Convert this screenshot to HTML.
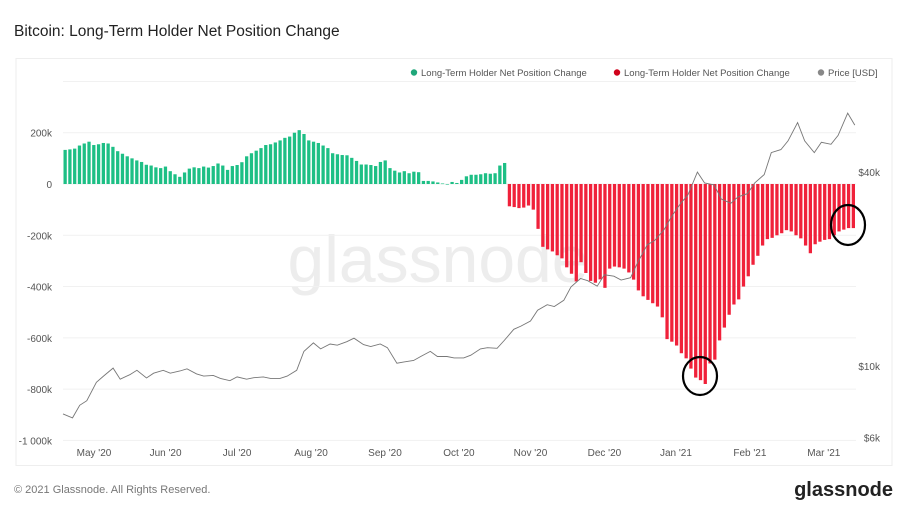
<!DOCTYPE html>
<html><head><meta charset="utf-8">
<style>
html,body{margin:0;padding:0;background:#fff;width:908px;height:507px;overflow:hidden;font-family:"Liberation Sans",sans-serif;}
svg{display:block}
</style></head>
<body>
<svg id="chart" width="908" height="507" viewBox="0 0 908 507" xmlns="http://www.w3.org/2000/svg">
<text x="14" y="36" font-size="15.5" fill="#222">Bitcoin: Long-Term Holder Net Position Change</text>
<rect x="16" y="58.5" width="876" height="407" fill="#fff" stroke="#eee"/>
<text x="438" y="282" font-size="66" fill="#ededed" text-anchor="middle">glassnode</text>
<g id="grid"></g>
<g id="bars"></g>
<g id="price"></g>
<g id="axes"></g>
<ellipse cx="700" cy="376" rx="17" ry="19" fill="none" stroke="#000" stroke-width="2.2"/>
<ellipse cx="848" cy="225" rx="17" ry="20" fill="none" stroke="#000" stroke-width="2.2"/>
<g font-size="9.5" fill="#555">
 <g><circle cx="414" cy="72.5" r="3.2" fill="#1fa77a"/><text x="421" y="76">Long-Term Holder Net Position Change</text></g>
 <g><circle cx="617" cy="72.5" r="3.2" fill="#d0021b"/><text x="624" y="76">Long-Term Holder Net Position Change</text></g>
 <g><circle cx="821" cy="72.5" r="3.2" fill="#888"/><text x="828" y="76">Price [USD]</text></g>
</g>
<text x="14" y="493" font-size="11" fill="#777">© 2021 Glassnode. All Rights Reserved.</text>
<text x="893" y="496" font-size="20" font-weight="bold" fill="#222" text-anchor="end">glassnode</text>
</svg>
<script>
const greenValues=[133,135,138,150,158,165,152,155,160,158,145,128,118,108,100,92,86,75,72,65,62,68,50,38,28,45,60,65,62,68,64,70,80,72,55,70,74,85,108,120,130,140,152,155,162,170,180,185,200,210,195,170,165,160,150,140,120,116,113,112,102,90,76,76,74,70,86,92,62,52,45,50,42,48,46,12,12,10,6,2,0,8,4,16,30,36,36,38,42,40,42,72,82];
const redValues=[-87,-90,-94,-92,-84,-100,-175,-245,-255,-263,-278,-290,-325,-350,-380,-305,-347,-378,-385,-372,-405,-330,-322,-325,-330,-345,-373,-415,-438,-452,-465,-478,-520,-605,-615,-630,-660,-680,-720,-755,-765,-780,-700,-685,-610,-560,-510,-470,-450,-400,-360,-315,-280,-240,-215,-210,-200,-192,-180,-185,-200,-212,-240,-270,-235,-225,-218,-215,-200,-185,-178,-172,-172];
const priceDays=[0,4,7,10,14,17,21,24,28,31,35,38,42,45,49,52,56,59,63,66,70,73,77,80,84,87,91,94,98,101,105,108,112,115,119,122,126,129,133,136,140,143,147,150,154,157,161,164,168,171,175,178,182,185,189,192,196,199,203,206,210,213,217,220,224,227,231,234,238,241,245,248,252,255,259,262,266,269,273,276,280,283,287,290,294,297,301,304,308,311,315,318,322,325,329,332];
const priceValues=[7100,6900,7550,7800,8900,9300,9850,9100,9400,9700,9180,9500,9700,9500,9650,9800,9450,9300,9350,9150,9000,9250,9100,9200,9250,9150,9150,9300,9700,11100,11800,11300,11700,11600,11900,12200,11650,11500,11700,11400,10200,10300,10400,10700,11100,10700,10700,10600,10600,10800,11300,11400,11350,12000,13000,13300,13800,14900,15500,15300,16000,17600,18700,18400,17700,19200,19000,18500,18800,21000,23800,24500,26500,29000,32000,34000,40000,37000,36500,33000,32000,33500,34300,37000,39300,46000,47000,50000,57000,50000,46000,49500,48800,52000,61000,56000];
const leftTicks=[200,0,-200,-400,-600,-800,-1000];
const leftTickLabels=["200k","0","-200k","-400k","-600k","-800k","-1 000k"];
const rightTicks=[40000,10000,6000];
const rightTickLabels=["$40k","$10k","$6k"];
const monthDays=[13,43,73,104,135,166,196,227,257,288,319];
const monthLabels=["May '20","Jun '20","Jul '20","Aug '20","Sep '20","Oct '20","Nov '20","Dec '20","Jan '21","Feb '21","Mar '21"];

const NS='http://www.w3.org/2000/svg';
const X0=63,X1=856,Y0=184,PXK=0.2564;
const nBars=greenValues.length+redValues.length;
const step=(X1-X0)/nBars;
const yL=v=>Y0-v*PXK;
const yR=p=>366-(Math.log10(p)-4)*322;
const xDay=d=>X0+d*2.385;
function mk(tag,attrs,parent){const e=document.createElementNS(NS,tag);for(const k in attrs)e.setAttribute(k,attrs[k]);parent.appendChild(e);return e;}
const grid=document.getElementById('grid'),bars=document.getElementById('bars'),price=document.getElementById('price'),axes=document.getElementById('axes');
[400].concat(leftTicks).forEach(v=>{
  const l=mk('line',{x1:X0,x2:X1,y1:yL(v),y2:yL(v),stroke:'#f1f1f1','stroke-width':1},grid);
  
  
});
leftTicks.forEach((v,i)=>{
  const t=mk('text',{x:52,y:yL(v)+4,'font-size':10,fill:'#555','text-anchor':'end'},axes);
  t.textContent=leftTickLabels[i];
  
  
});
rightTicks.forEach((v,i)=>{
  const t=mk('text',{x:880,y:yR(v)+4,'font-size':10,fill:'#555','text-anchor':'end'},axes);
  t.textContent=rightTickLabels[i];
  
  
});
monthDays.forEach((d,i)=>{
  const t=mk('text',{x:xDay(d),y:456,'font-size':10,fill:'#555','text-anchor':'middle'},axes);
  t.textContent=monthLabels[i];
  
  
});
const all=greenValues.concat(redValues);
all.forEach((v,i)=>{
  const x=X0+i*step;
  const y=Math.min(yL(v),Y0),h=Math.max(Math.abs(v*PXK),0.6);
  const r=mk('rect',{x:x+0.5,y:y,width:step-1.5,height:h,fill:i<greenValues.length?'#1dbf85':'#f0213a'},bars);
  
  
});
const pts=priceDays.map((d,i)=>xDay(d).toFixed(1)+','+yR(priceValues[i]).toFixed(1)).join(' ');
const pl=mk('polyline',{points:pts,fill:'none',stroke:'#777','stroke-width':0.9},price);


</script>
</body></html>
